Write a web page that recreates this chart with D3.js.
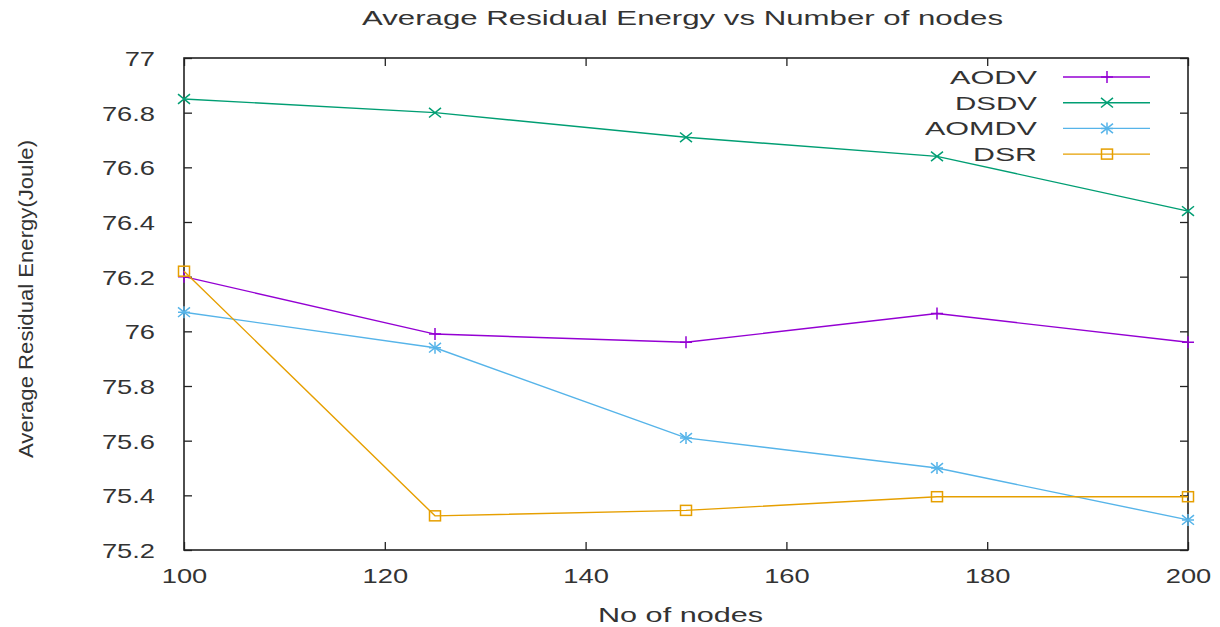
<!DOCTYPE html>
<html lang="en">
<head>
    <meta charset="UTF-8">
    <title>Average Residual Energy vs Number of nodes</title>
    <style>
        body { margin: 0; background: #fff; }
        text { font-family: "Liberation Sans", Arial, sans-serif; fill: #333; }
    </style>
</head>
<body>
<svg id="chart"></svg>
<script src="https://d3js.org/d3.v7.min.js"></script>
<script>
    // data
    const nodeCounts = [100, 125, 150, 175, 200];
    const aodv  = [76.20, 75.99, 75.96, 76.065, 75.96];
    const dsdv  = [76.85, 76.80, 76.71, 76.64, 76.44];
    const aomdv = [76.07, 75.94, 75.61, 75.50, 75.31];
    const dsr   = [76.22, 75.325, 75.345, 75.395, 75.395];
    const xTicks = [100, 120, 140, 160, 180, 200];
    const yTicks = [75.2, 75.4, 75.6, 75.8, 76, 76.2, 76.4, 76.6, 76.8, 77];

    const series = [
        { name: "AODV",  values: aodv,  color: "#9400d3", marker: "plus",   labelW: 87 },
        { name: "DSDV",  values: dsdv,  color: "#009e73", marker: "cross",  labelW: 82 },
        { name: "AOMDV", values: aomdv, color: "#56b4e9", marker: "star",   labelW: 112 },
        { name: "DSR",   values: dsr,   color: "#e69f00", marker: "square", labelW: 64 }
    ];

    const W = 1220, H = 627;
    const plotL = 184, plotR = 1188, plotT = 58, plotB = 550;

    const svg = d3.select("#chart").attr("width", W).attr("height", H);

    const x = d3.scaleLinear().domain([100, 200]).range([plotL, plotR]);
    const y = d3.scaleLinear().domain([75.2, 77]).range([plotB, plotT]);

    // stretch text horizontally like the reference
    function stretch(sel, factor) {
        sel.each(function() {
            const w = this.getComputedTextLength();
            d3.select(this).attr("textLength", w * factor).attr("lengthAdjust", "spacingAndGlyphs");
        });
    }

    const fmt = d => String(+d.toFixed(1));

    // axes (ticks inward, mirrored on top/right)
    const gx = svg.append("g").attr("transform", `translate(0,${plotB})`)
        .call(d3.axisBottom(x).tickValues(xTicks).tickSizeInner(-8).tickSizeOuter(0));
    const gxTop = svg.append("g").attr("transform", `translate(0,${plotT})`)
        .call(d3.axisTop(x).tickValues(xTicks).tickSizeInner(-8).tickSizeOuter(0).tickFormat(""));
    const gy = svg.append("g").attr("transform", `translate(${plotL},0)`)
        .call(d3.axisLeft(y).tickValues(yTicks).tickFormat(fmt).tickSizeInner(-8).tickSizeOuter(0));
    const gyRight = svg.append("g").attr("transform", `translate(${plotR},0)`)
        .call(d3.axisRight(y).tickValues(yTicks).tickSizeInner(-8).tickSizeOuter(0).tickFormat(""));

    [gx, gxTop, gy, gyRight].forEach(g => {
        g.select(".domain").remove();
        g.selectAll(".tick line").attr("stroke", "#222").attr("stroke-width", 1.3);
    });

    gx.selectAll(".tick text").attr("font-size", 21).attr("fill", "#333").attr("dy", 0).attr("y", 33);
    gy.selectAll(".tick text").attr("font-size", 21).attr("fill", "#333").attr("dy", 7.5).attr("x", -29);
    stretch(gx.selectAll(".tick text"), 1.3);
    stretch(gy.selectAll(".tick text"), 1.3);

    // frame
    svg.append("rect")
        .attr("x", plotL).attr("y", plotT)
        .attr("width", plotR - plotL).attr("height", plotB - plotT)
        .attr("fill", "none").attr("stroke", "#222").attr("stroke-width", 1.6);

    // markers
    function drawMarker(g, type, cx, cy, color) {
        const s = 6;
        const m = g.append("g").attr("transform", `translate(${cx},${cy})`)
            .attr("stroke", color).attr("stroke-width", 1.5).attr("fill", "none");
        if (type === "plus" || type === "star") {
            m.append("path").attr("d", `M${-s},0H${s}M0,${-s}V${s}`);
        }
        if (type === "cross" || type === "star") {
            m.append("path").attr("d", `M${-s},${-s * 0.8}L${s},${s * 0.8}M${-s},${s * 0.8}L${s},${-s * 0.8}`);
        }
        if (type === "square") {
            m.append("rect").attr("x", -5.5).attr("y", -5).attr("width", 11).attr("height", 10);
        }
    }

    const line = d3.line().x((d, i) => x(nodeCounts[i])).y(d => y(d));

    series.forEach(s => {
        svg.append("path")
            .datum(s.values)
            .attr("d", line)
            .attr("fill", "none")
            .attr("stroke", s.color)
            .attr("stroke-width", 1.4);
        const mg = svg.append("g");
        s.values.forEach((v, i) => drawMarker(mg, s.marker, x(nodeCounts[i]), y(v), s.color));
    });

    // legend
    const legend = svg.append("g");
    series.forEach((s, i) => {
        const ly = 77 + i * 25.7;
        legend.append("text")
            .attr("x", 1037).attr("y", ly + 7)
            .attr("text-anchor", "end")
            .attr("font-size", 19)
            .attr("textLength", s.labelW).attr("lengthAdjust", "spacingAndGlyphs")
            .text(s.name);
        legend.append("line")
            .attr("x1", 1063).attr("x2", 1150).attr("y1", ly).attr("y2", ly)
            .attr("stroke", s.color).attr("stroke-width", 1.4);
        drawMarker(legend, s.marker, 1107, ly, s.color);
    });

    // title and axis labels
    svg.append("text")
        .attr("x", 682.5).attr("y", 25)
        .attr("text-anchor", "middle").attr("font-size", 21)
        .attr("textLength", 641).attr("lengthAdjust", "spacingAndGlyphs")
        .text("Average Residual Energy vs Number of nodes");

    svg.append("text")
        .attr("x", 680.5).attr("y", 622)
        .attr("text-anchor", "middle").attr("font-size", 21)
        .attr("textLength", 165).attr("lengthAdjust", "spacingAndGlyphs")
        .text("No of nodes");

    svg.append("text")
        .attr("transform", "translate(33,299) rotate(-90)")
        .attr("text-anchor", "middle").attr("font-size", 21)
        .attr("textLength", 318).attr("lengthAdjust", "spacingAndGlyphs")
        .text("Average Residual Energy(Joule)");
</script>
</body>
</html>
